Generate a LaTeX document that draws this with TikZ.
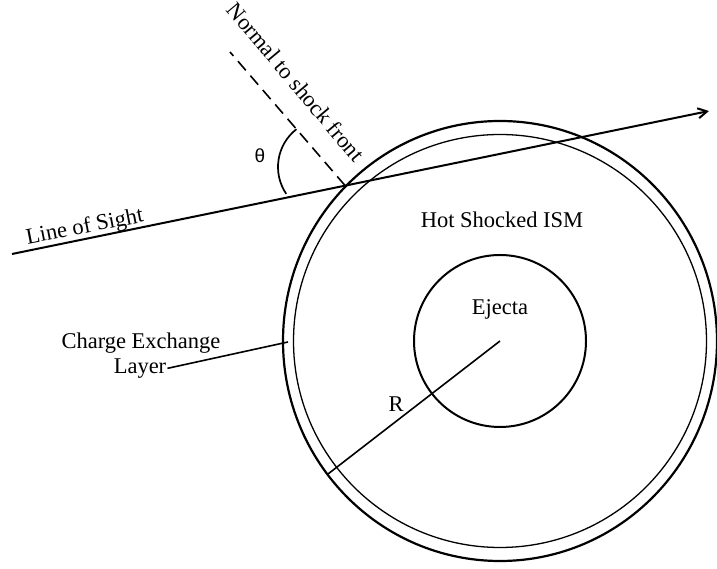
\documentclass[tikz,border=0pt]{standalone}
\usepackage{fontspec}
\setmainfont{Liberation Serif}
\newfontfamily\greekfont{Liberation Sans}
\usetikzlibrary{arrows.meta}

\begin{document}
\begin{tikzpicture}[x=1pt,y=1pt,
                    lbl/.style={font=\fontsize{22.5}{25}\selectfont,inner sep=1pt},
                    thin line/.style={line width=1.6pt},
                    thick line/.style={line width=2pt}
                    ]
    \useasboundingbox (0,0) rectangle (717,569);

    % The shells
    \coordinate (O) at (500,228);
    \draw[line width=2.2pt] (O) ellipse [x radius=217, y radius=220];
    \draw[line width=1.3pt] (O) circle [radius=206.5];
    \draw[thick line] (O) circle [radius=86];

    % The line of sight and the normal
    \coordinate (start) at (12,315);
    \coordinate (end) at (709,458);
    \coordinate (P) at (345,383.5);
    \coordinate (N) at (230,517);
    \draw[thick line,-{Straight Barb[length=9pt,width=10pt]}] (start) -- (end);
    \draw[thin line,dash pattern=on 12pt off 7pt] (P) -- (N);
    \draw[line width=1.7pt] ([shift={(128:48)}]326,402) arc [start angle=128, end angle=214, radius=48];

    % The radius
    \coordinate (rim) at (328,95);
    \draw[thin line] (O) -- (rim);

    % The labels
    \node[lbl,anchor=base,rotate=-50] (normal) at (290,482) {Normal to shock front};
    \node[lbl,anchor=base,rotate=11] (sight) at (86,336) {Line of Sight};
    \node[font=\greekfont\fontsize{19}{21}\selectfont] (theta) at (260,413) {θ};
    \node[lbl,anchor=base] (hot) at (502,341) {Hot Shocked ISM};
    \node[lbl,anchor=base] (ejecta) at (500,254) {Ejecta};
    \node[lbl,anchor=base] (R) at (396,157) {R};
    \node[lbl,anchor=base] (cx) at (141,220.7) {Charge Exchange};
    \node[lbl,anchor=base] (layer) at (140,195.7) {Layer};
    \coordinate (cxl) at (288,227);
    \draw[thin line] (layer.east) -- (cxl);
\end{tikzpicture}
\end{document}
